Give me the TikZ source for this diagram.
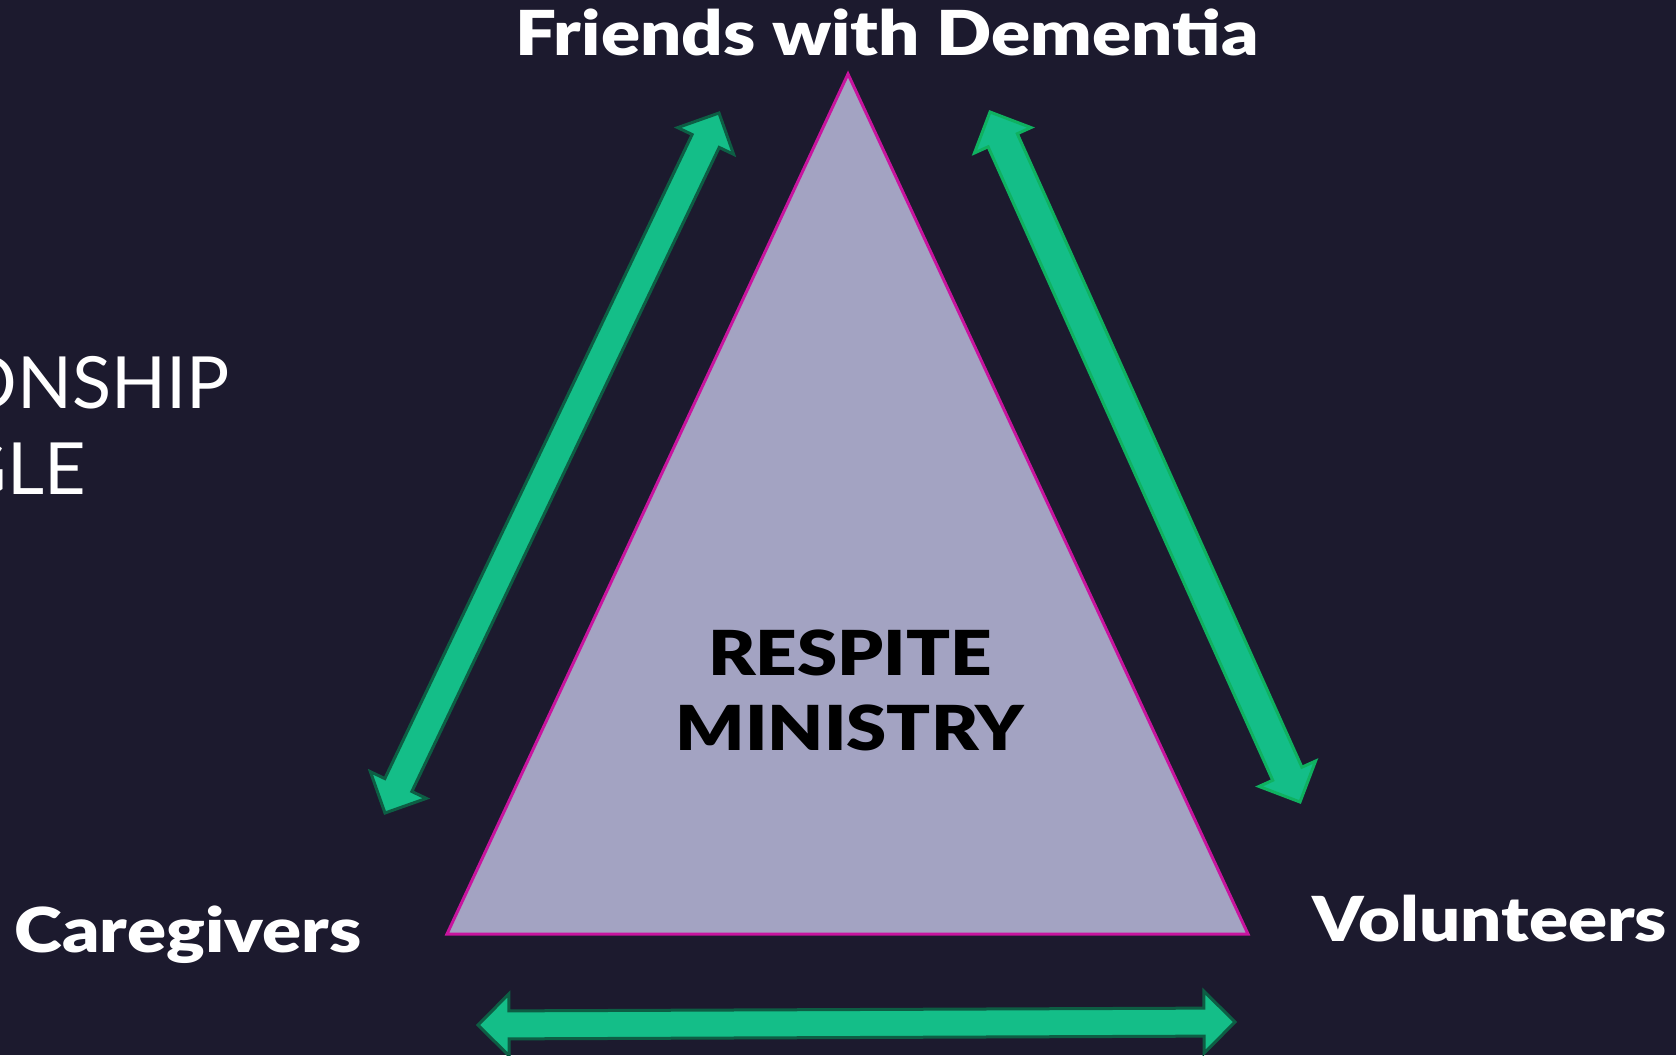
\documentclass[tikz,border=0pt]{standalone}
\usepackage{fontspec}
\setmainfont{Lato}[BoldFont={Lato Black}]
\usetikzlibrary{calc}

\definecolor{bgnavy}{HTML}{1C1A2E}
\definecolor{lavender}{HTML}{A3A3C2}
\definecolor{magentaline}{HTML}{C8149E}
\definecolor{arrowgreen}{HTML}{14BE88}
\definecolor{darkgreen}{HTML}{0D5E44}
\definecolor{brightgreen}{HTML}{0FB160}

% block arrow with two heads: style, from, to, half shaft width
\newcommand{\blockarrow}[4]{%
  \coordinate (ha) at ($(#2)!15.5pt!(#3)$);
  \coordinate (hb) at ($(#3)!15.5pt!(#2)$);
  \draw[#1] (#2) -- ($(ha)!15.5pt!-90:(#3)$) -- ($(ha)!#4!-90:(#3)$)
    -- ($(hb)!#4!90:(#2)$) -- ($(hb)!15.5pt!90:(#2)$) -- (#3)
    -- ($(hb)!15.5pt!-90:(#2)$) -- ($(hb)!#4!-90:(#2)$)
    -- ($(ha)!#4!90:(#3)$) -- ($(ha)!15.5pt!90:(#3)$) -- cycle;
}

\tikzset{
  label/.style={text=white, inner sep=0pt, anchor=base, xscale=1.17, transform shape,
    font=\fontsize{31}{37}\selectfont\bfseries},
  title/.style={text=white, inner sep=0pt, anchor=base east, font=\fontsize{36}{43}\selectfont},
  arr/.style={fill=arrowgreen, line width=1.5pt, line join=miter}
}

\begin{document}
\begin{tikzpicture}[x=0.5pt, y=-0.5pt]
    \clip (0,0) rectangle (1676,1055);
    \fill[bgnavy] (0,0) rectangle (1676,1055);

    % partly hidden title at the left
    \node[title] (rel) at (230,408) {RELATIONSHIP};
    \node[title] (tri) at (86,494) {TRIANGLE};

    % the triangle
    \draw[fill=lavender, draw=magentaline, line width=1.5pt] (848,74) -- (1248,934) -- (447,934) -- cycle;
    \node[inner sep=0pt, align=center, xscale=1.17, transform shape,
      font=\fontsize{31}{37.5}\selectfont\bfseries] (respite) at (850,690) {RESPITE\\MINISTRY};

    % the three groups
    \node[label] (friends) at (887,55) {Friends with Dementia};
    \node[label] (caregivers) at (188,952) {Caregivers};
    \node[label] (volunteers) at (1490,941) {Volunteers};

    % arrow tips
    \coordinate (leftlow) at (385,813);
    \coordinate (lefthigh) at (719,113);
    \coordinate (righthigh) at (990,112);
    \coordinate (rightlow) at (1300,802);
    \coordinate (bottomleft) at (478,1025);
    \coordinate (bottomright) at (1235,1022);

    \blockarrow{arr, draw=darkgreen}{leftlow}{lefthigh}{7.5pt}
    \blockarrow{arr, draw=brightgreen}{righthigh}{rightlow}{8pt}
    \blockarrow{arr, draw=darkgreen}{bottomleft}{bottomright}{7pt}
\end{tikzpicture}
\end{document}
